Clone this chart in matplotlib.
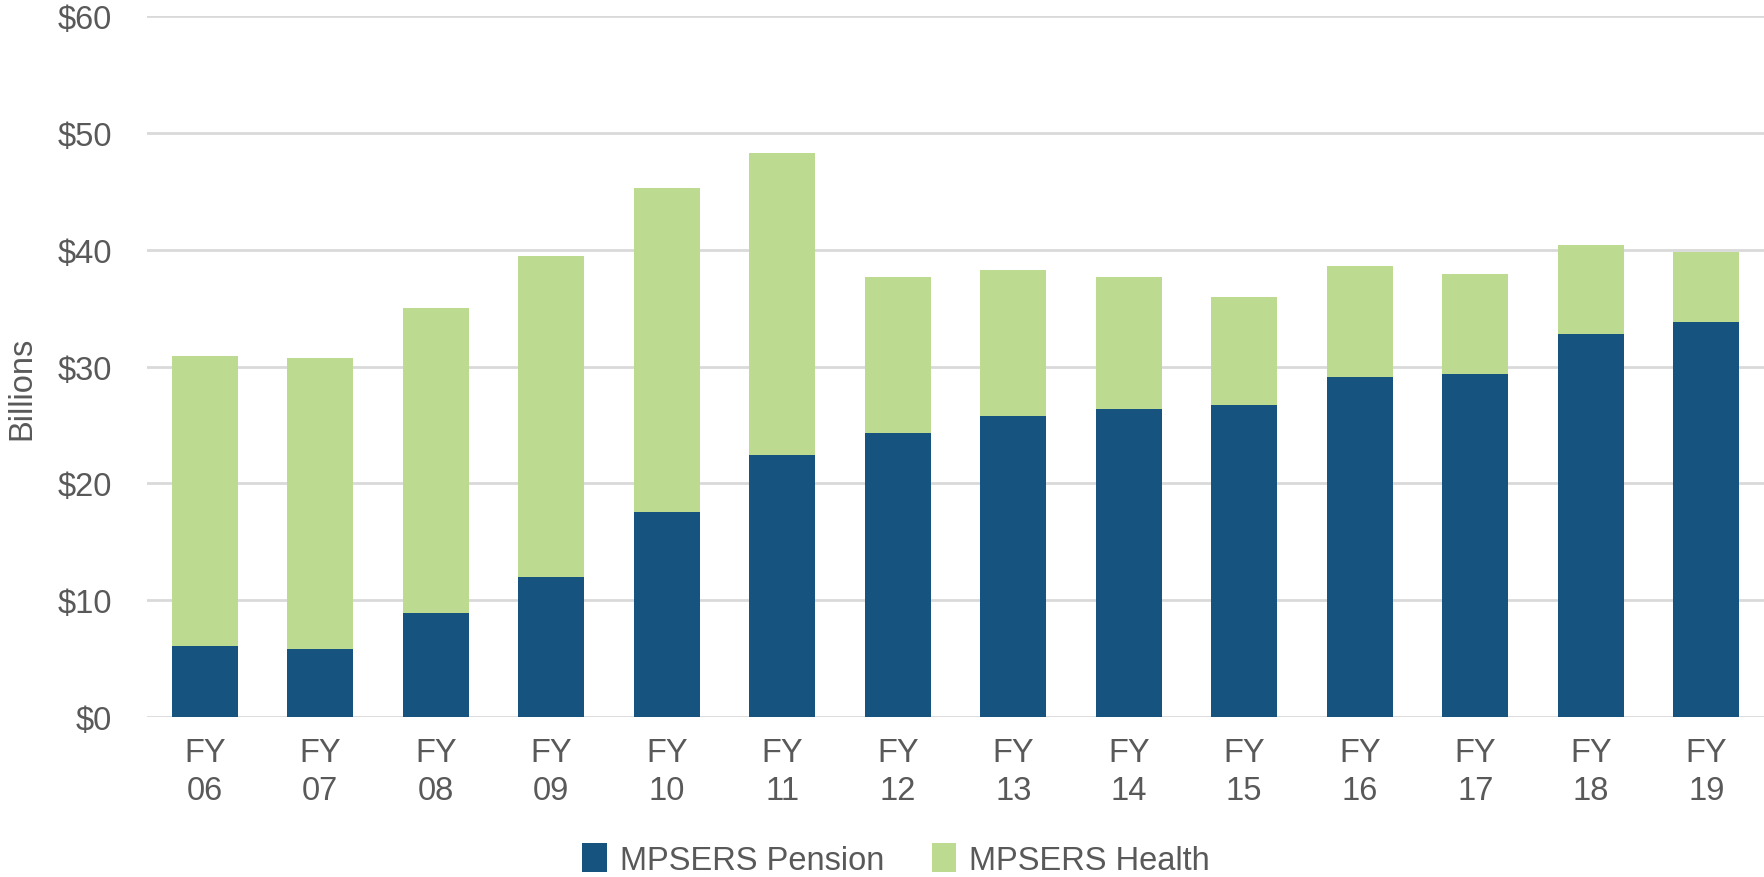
import matplotlib
matplotlib.use("Agg")
import matplotlib.pyplot as plt
import numpy as np

# ── Data (billions of dollars) ───────────────────────────────────────────────
years = ["06", "07", "08", "09", "10", "11", "12", "13", "14", "15", "16", "17", "18", "19"]
pension = [6.1, 5.8, 8.9, 12.0, 17.6, 22.4, 24.3, 25.8, 26.4, 26.7, 29.1, 29.4, 32.8, 33.8]
total = [30.9, 30.7, 35.0, 39.5, 45.3, 48.3, 37.7, 38.3, 37.7, 36.0, 38.6, 37.9, 40.4, 39.8]
health = [t - p for t, p in zip(total, pension)]
y_ticks = [0, 10, 20, 30, 40, 50, 60]

PENSION = "#16537E"
HEALTH = "#BCDB91"
TEXT = "#595959"

plt.rcParams["font.family"] = ["Liberation Sans", "DejaVu Sans"]

fig = plt.figure(figsize=(17.64, 8.78), dpi=100)
ax = fig.add_axes([0.0833, 0.182, 0.9167, 0.7986])

x = np.arange(len(years))
width = 0.57
ax.bar(x, pension, width, color=PENSION, label="MPSERS Pension", zorder=3)
ax.bar(x, health, width, bottom=pension, color=HEALTH, label="MPSERS Health", zorder=3)

ax.set_xlim(-0.5, len(years) - 0.5)
ax.set_ylim(0, 60)
ax.set_yticks(y_ticks)
ax.set_yticklabels([f"${v}" for v in y_ticks])
ax.set_xticks(x)
ax.set_xticklabels([f"FY\n{y}" for y in years], linespacing=1.3)

ax.grid(True, axis="y", color="#D9D9D9", linewidth=2, zorder=0)
for s in ax.spines.values():
    s.set_visible(False)
ax.tick_params(axis="both", length=0, labelsize=23.5, labelcolor=TEXT)
ax.tick_params(axis="y", pad=25)
ax.tick_params(axis="x", pad=14)

fig.text(0.0125, 0.558, "Billions", rotation=90, ha="center", va="center",
         fontsize=23.5, color=TEXT)

fig.legend(loc="center", bbox_to_anchor=(0.508, 0.02), ncol=2, frameon=False,
           fontsize=23.5, labelcolor=TEXT, handlelength=0.75, handleheight=1.0,
           handletextpad=0.4, columnspacing=1.45)

fig.savefig("out.png", dpi=100)
